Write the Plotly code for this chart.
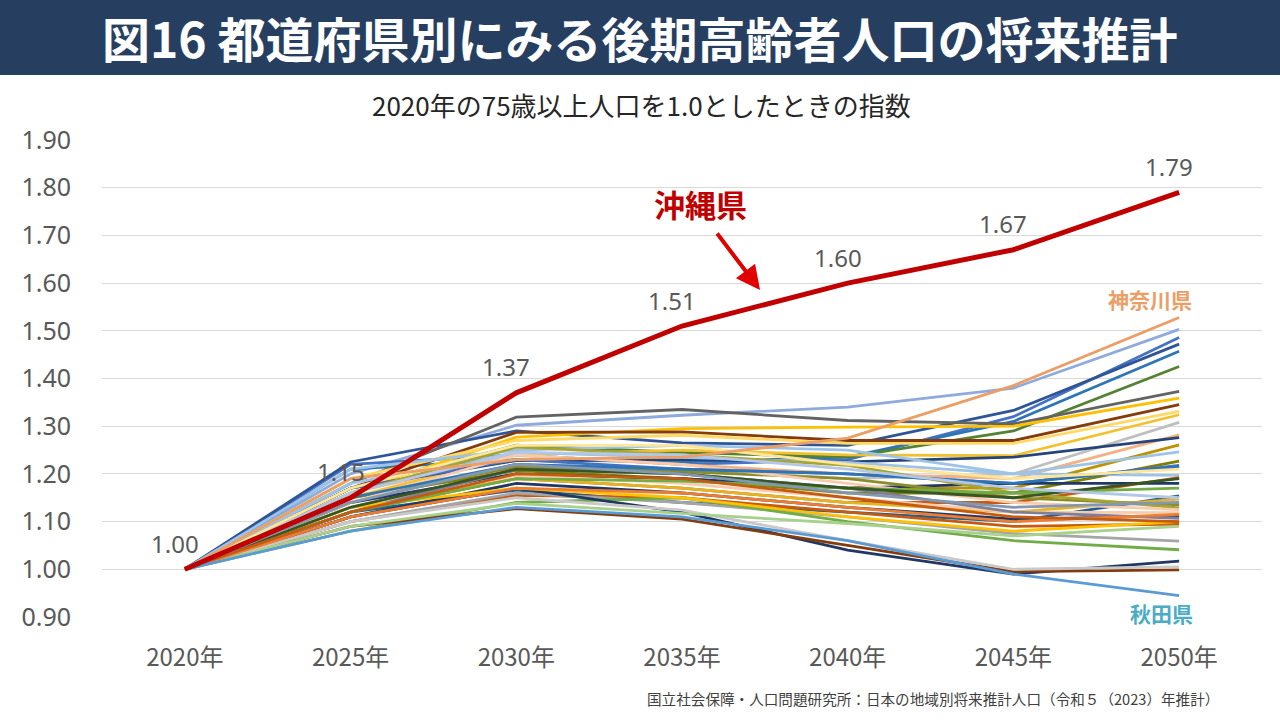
import plotly.graph_objects as go

years = ["2020年", "2025年", "2030年", "2035年", "2040年", "2045年", "2050年"]
y_ticks = [0.90, 1.00, 1.10, 1.20, 1.30, 1.40, 1.50, 1.60, 1.70, 1.80, 1.90]

okinawa = [1.00, 1.15, 1.37, 1.51, 1.60, 1.67, 1.79]
kanagawa = [1.00, 1.19, 1.23, 1.235, 1.275, 1.385, 1.528]
akita = [1.00, 1.08, 1.13, 1.11, 1.06, 0.99, 0.945]

# other prefectures (index, 2020 = 1.0)
others = [
    [1.00, 1.20, 1.302, 1.323, 1.340, 1.380, 1.503],
    [1.00, 1.22, 1.240, 1.220, 1.230, 1.320, 1.486],
    [1.00, 1.225, 1.290, 1.265, 1.260, 1.333, 1.472],
    [1.00, 1.21, 1.230, 1.225, 1.235, 1.310, 1.457],
    [1.00, 1.17, 1.260, 1.245, 1.235, 1.290, 1.425],
    [1.00, 1.18, 1.319, 1.335, 1.312, 1.305, 1.373],
    [1.00, 1.16, 1.277, 1.295, 1.298, 1.300, 1.359],
    [1.00, 1.17, 1.287, 1.288, 1.270, 1.270, 1.345],
    [1.00, 1.19, 1.270, 1.281, 1.264, 1.264, 1.331],
    [1.00, 1.15, 1.240, 1.250, 1.240, 1.238, 1.324],
    [1.00, 1.14, 1.220, 1.210, 1.190, 1.200, 1.308],
    [1.00, 1.16, 1.239, 1.220, 1.200, 1.190, 1.282],
    [1.00, 1.17, 1.228, 1.230, 1.225, 1.235, 1.276],
    [1.00, 1.13, 1.200, 1.190, 1.170, 1.170, 1.261],
    [1.00, 1.18, 1.245, 1.235, 1.224, 1.200, 1.246],
    [1.00, 1.15, 1.207, 1.190, 1.160, 1.160, 1.227],
    [1.00, 1.17, 1.230, 1.210, 1.200, 1.180, 1.218],
    [1.00, 1.21, 1.250, 1.260, 1.250, 1.200, 1.197],
    [1.00, 1.12, 1.190, 1.170, 1.140, 1.140, 1.192],
    [1.00, 1.14, 1.200, 1.190, 1.170, 1.180, 1.180],
    [1.00, 1.12, 1.166, 1.140, 1.120, 1.100, 1.154],
    [1.00, 1.13, 1.190, 1.170, 1.140, 1.120, 1.147],
    [1.00, 1.15, 1.214, 1.205, 1.190, 1.150, 1.135],
    [1.00, 1.16, 1.256, 1.240, 1.218, 1.160, 1.129],
    [1.00, 1.13, 1.197, 1.180, 1.150, 1.120, 1.119],
    [1.00, 1.11, 1.180, 1.160, 1.130, 1.105, 1.112],
    [1.00, 1.12, 1.210, 1.200, 1.170, 1.120, 1.107],
    [1.00, 1.10, 1.155, 1.150, 1.120, 1.090, 1.095],
    [1.00, 1.10, 1.160, 1.140, 1.110, 1.075, 1.059],
    [1.00, 1.08, 1.140, 1.150, 1.100, 1.060, 1.041],
    [1.00, 1.11, 1.170, 1.120, 1.040, 0.990, 1.017],
    [1.00, 1.09, 1.127, 1.105, 1.050, 0.995, 0.999],
    [1.00, 1.10, 1.150, 1.124, 1.060, 1.000, 1.005],
    [1.00, 1.09, 1.138, 1.117, 1.096, 1.070, 1.090],
    [1.00, 1.13, 1.170, 1.150, 1.110, 1.080, 1.100],
    [1.00, 1.14, 1.240, 1.220, 1.180, 1.140, 1.125],
    [1.00, 1.15, 1.220, 1.210, 1.200, 1.180, 1.215],
    [1.00, 1.12, 1.190, 1.185, 1.170, 1.160, 1.170],
    [1.00, 1.13, 1.210, 1.200, 1.170, 1.150, 1.190],
    [1.00, 1.16, 1.245, 1.240, 1.210, 1.170, 1.150],
    [1.00, 1.11, 1.170, 1.160, 1.130, 1.100, 1.115],
    [1.00, 1.12, 1.200, 1.190, 1.150, 1.110, 1.100],
    [1.00, 1.17, 1.260, 1.260, 1.220, 1.190, 1.210],
    [1.00, 1.14, 1.220, 1.200, 1.160, 1.130, 1.140],
]
other_colors = [
    "#8FAADC", "#4472C4", "#2F5597", "#2E75B6", "#548235", "#636363",
    "#FFC000", "#843C0C", "#FFD966", "#F2C12E", "#BFBFBF", "#F4B183",
    "#264478", "#BF9000", "#9DC3E6", "#7F7F00", "#4472C4", "#9DC3E6",
    "#C55A11", "#1F3864", "#255E91", "#E6B422", "#8C8C28", "#A5A530",
    "#F8CBAD", "#203864", "#7F7F99", "#C55A11", "#A5A5A5", "#70AD47",
    "#203864", "#843C0C", "#C9C9C9", "#A9D18E", "#FFC000", "#F8CBAD",
    "#2E75B6", "#70AD47", "#375623", "#B4C7E7", "#ED7D31", "#C55A11",
    "#FFE699", "#8497B0",
]

fig = go.Figure()

for vals, col in zip(others, other_colors):
    fig.add_trace(go.Scatter(x=years, y=vals, mode="lines",
                             line=dict(color=col, width=2.8),
                             hoverinfo="skip", showlegend=False))

fig.add_trace(go.Scatter(x=years, y=akita, mode="lines",
                         line=dict(color="#5B9BD5", width=2.8), showlegend=False))
fig.add_trace(go.Scatter(x=years, y=kanagawa, mode="lines",
                         line=dict(color="#EB9E66", width=2.8), showlegend=False))
fig.add_trace(go.Scatter(x=years, y=okinawa, mode="lines",
                         line=dict(color="#C00000", width=5), showlegend=False))

# data labels for Okinawa
for xv, yv in zip(years, okinawa):
    fig.add_annotation(x=xv, y=yv, text=f"{yv:.2f}", showarrow=False,
                       xshift=-10, yshift=26,
                       font=dict(family="Noto Sans", size=24, color="#595959"))

# plot area: x 102..1262, y 140..617
L, R, T, B = 102, 18, 140, 103
PW, PH = 1280 - L - R, 720 - T - B

def px_x(p):
    return (p - L) / PW

def px_y(p):
    return (720 - B - p) / PH

fig.add_shape(type="rect", xref="paper", yref="paper",
              x0=px_x(0), x1=px_x(1280), y0=px_y(75), y1=px_y(0),
              fillcolor="#263F61", line=dict(width=0), layer="below")

fig.add_annotation(xref="paper", yref="paper", x=px_x(640), y=px_y(37),
                   text="<b>図16 都道府県別にみる後期高齢者人口の将来推計</b>",
                   showarrow=False, xanchor="center", yanchor="middle",
                   font=dict(family="Noto Sans CJK JP", size=48, color="white"))

fig.add_annotation(xref="paper", yref="paper", x=px_x(641), y=px_y(104),
                   text="2020年の75歳以上人口を1.0としたときの指数",
                   showarrow=False, xanchor="center", yanchor="middle",
                   font=dict(family="Noto Sans CJK JP", size=26, color="#262626"))

fig.add_annotation(xref="paper", yref="paper", x=px_x(1221), y=px_y(698),
                   text="国立社会保障・人口問題研究所：日本の地域別将来推計人口（令和５（2023）年推計）",
                   showarrow=False, xanchor="right", yanchor="middle",
                   font=dict(family="Noto Sans CJK JP", size=14.6, color="#404040"))

fig.add_annotation(xref="paper", yref="paper", x=px_x(700), y=px_y(203),
                   text="<b>沖縄県</b>", showarrow=False,
                   xanchor="center", yanchor="middle",
                   font=dict(family="Noto Sans CJK JP", size=31, color="#C00000"))

fig.add_annotation(xref="paper", yref="paper",
                   x=px_x(760), y=px_y(290), ax=-44, ay=-58,
                   text="", showarrow=True,
                   arrowhead=2, arrowsize=1.2, arrowwidth=4, arrowcolor="#E00000")

fig.add_annotation(xref="paper", yref="paper", x=px_x(1150), y=px_y(299),
                   text="<b>神奈川県</b>", showarrow=False,
                   xanchor="center", yanchor="middle",
                   font=dict(family="Noto Sans CJK JP", size=21, color="#EB9E66"))

fig.add_annotation(xref="paper", yref="paper", x=px_x(1161), y=px_y(613),
                   text="<b>秋田県</b>", showarrow=False,
                   xanchor="center", yanchor="middle",
                   font=dict(family="Noto Sans CJK JP", size=21, color="#4BACC6"))

fig.update_layout(
    width=1280, height=720,
    margin=dict(l=L, r=R, t=T, b=B),
    paper_bgcolor="white", plot_bgcolor="white",
    font=dict(family="Noto Sans CJK JP", color="#595959"),
    xaxis=dict(type="category", range=[-0.5, 6.5], showgrid=False,
               showline=False, zeroline=False, ticks="",
               tickfont=dict(size=24, color="#595959", family="Noto Sans CJK JP"),
               ticklabelstandoff=24),
    yaxis=dict(range=[0.9, 1.9], tickvals=y_ticks,
               ticktext=[f"{v:.2f}" for v in y_ticks],
               showgrid=True, gridcolor="#D9D9D9", gridwidth=1,
               zeroline=False, showline=False, ticks="",
               tickfont=dict(size=25, color="#595959", family="Noto Sans"),
               ticklabelstandoff=30),
)

fig.write_html("out.html", config={"displayModeBar": False},
               post_script="document.body.style.margin='0px';document.body.style.overflow='hidden';")
